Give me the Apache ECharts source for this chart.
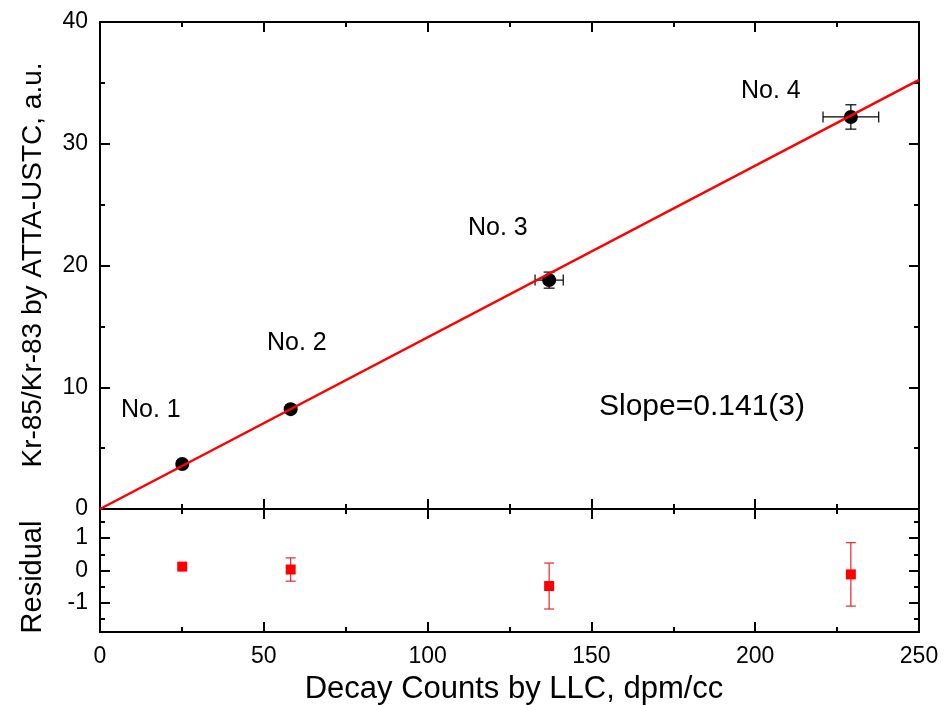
<!DOCTYPE html>
<html>
<head>
<meta charset="utf-8">
<script src="https://cdn.jsdelivr.net/npm/echarts@6/dist/echarts.min.js"></script>
<style>
  html, body { margin: 0; padding: 0; background: #fff; }
  #chart { width: 945px; height: 705px; }
</style>
</head>
<body>
<div id="chart"></div>
<script>
// sample data
const sampleNames = ["No. 1", "No. 2", "No. 3", "No. 4"];
const llcCounts = [25.1, 58.2, 137.1, 229.2];
const llcErr = [0, 0.8, 4.3, 8.5];
const attaRatio = [3.7, 8.2, 18.8, 32.2];
const attaErr = [0, 0.2, 0.66, 1.0];
const residual = [0.12, 0.03, -0.48, -0.12];
const residualErr = [0, 0.36, 0.71, 0.98];
// fitted line, slope 0.141
const fitX = [0, 250];
const fitY = [0, 35.25];

const resTicks = [-1, 0, 1];
const resMinorTicks = [-1.5, -0.5, 0.5, 1.5];

const FONT = "'Liberation Sans', Arial, sans-serif";
const black = "#000";
const red = "#ff0000";

const chart = echarts.init(document.getElementById("chart"), null, { renderer: "canvas" });

const axisLine = { show: true, onZero: false, lineStyle: { color: black, width: 2 } };
const majorTick = { show: true, inside: true, length: 10, lineStyle: { color: black, width: 2 } };
const minorTick = { show: true, splitNumber: 2, length: 5, lineStyle: { color: black, width: 2 } };
const tickFont = { color: black, fontSize: 23, fontFamily: FONT };

const xBase = (grid, pos, labels) => ({
  type: "value",
  gridIndex: grid,
  position: pos,
  min: 0,
  max: 250,
  interval: 50,
  axisLine: axisLine,
  axisTick: majorTick,
  minorTick: minorTick,
  splitLine: { show: false },
  axisLabel: labels ? Object.assign({ show: true, margin: 13 }, tickFont) : { show: false },
});

const resY = (pos, values, len, labels) => ({
  type: "value",
  gridIndex: 1,
  position: pos,
  min: -1.9,
  max: 1.9,
  axisLine: axisLine,
  axisTick: { show: true, inside: true, length: len, customValues: values, lineStyle: { color: black, width: 2 } },
  splitLine: { show: false },
  axisLabel: labels
    ? Object.assign({ show: true, customValues: values, margin: 12 }, tickFont)
    : { show: false },
});

// error bars: [x, y, xErr, yErr]
const errorBar = (color, cap) => (params, api) => {
  const x = api.value(0), y = api.value(1), xe = api.value(2), ye = api.value(3);
  const l = api.coord([x - xe, y]), r = api.coord([x + xe, y]);
  const t = api.coord([x, y + ye]), b = api.coord([x, y - ye]);
  const style = { stroke: color, lineWidth: 1.2 };
  const children = [];
  if (ye > 0) {
    children.push(
      { type: "line", shape: { x1: t[0], y1: t[1], x2: b[0], y2: b[1] }, style: style },
      { type: "line", shape: { x1: t[0] - cap, y1: t[1], x2: t[0] + cap, y2: t[1] }, style: style },
      { type: "line", shape: { x1: b[0] - cap, y1: b[1], x2: b[0] + cap, y2: b[1] }, style: style }
    );
  }
  if (xe > 0) {
    children.push(
      { type: "line", shape: { x1: l[0], y1: l[1], x2: r[0], y2: r[1] }, style: style },
      { type: "line", shape: { x1: l[0], y1: l[1] - cap, x2: l[0], y2: l[1] + cap }, style: style },
      { type: "line", shape: { x1: r[0], y1: r[1] - cap, x2: r[0], y2: r[1] + cap }, style: style }
    );
  }
  return { type: "group", children: children };
};

const topPoints = llcCounts.map((x, i) => [x, attaRatio[i], llcErr[i], attaErr[i]]);
const resPoints = llcCounts.map((x, i) => [x, residual[i], 0, residualErr[i]]);

const labelText = (text, left, cy, size) => ({
  type: "text",
  x: left,
  y: cy,
  style: { text: text, fill: black, font: size + "px " + FONT, textAlign: "left", textVerticalAlign: "middle" },
});

chart.setOption({
  animation: false,
  backgroundColor: "#fff",
  grid: [
    { left: 100, top: 22, width: 819, height: 487 },
    { left: 100, top: 509, width: 819, height: 123 },
  ],
  xAxis: [
    xBase(0, "bottom", false),
    xBase(0, "top", false),
    xBase(1, "bottom", true),
    xBase(1, "top", false),
  ],
  yAxis: [
    {
      type: "value", gridIndex: 0, position: "left", min: 0, max: 40, interval: 10,
      axisLine: axisLine, axisTick: majorTick, minorTick: minorTick, splitLine: { show: false },
      axisLabel: Object.assign({ margin: 12 }, tickFont),
    },
    {
      type: "value", gridIndex: 0, position: "right", min: 0, max: 40, interval: 10,
      axisLine: axisLine, axisTick: majorTick, minorTick: minorTick, splitLine: { show: false },
      axisLabel: { show: false },
    },
    resY("left", resTicks, 10, true),
    resY("left", resMinorTicks, 5, false),
    resY("right", resTicks, 10, false),
    resY("right", resMinorTicks, 5, false),
  ],
  graphic: [
    labelText(sampleNames[0], 121, 410, 25),
    labelText(sampleNames[1], 267, 343, 25),
    labelText(sampleNames[2], 468, 228, 25),
    labelText(sampleNames[3], 741, 91, 25),
    labelText("Slope=0.141(3)", 599, 407, 30),
    {
      type: "text", x: 514, y: 689,
      style: { text: "Decay Counts by LLC, dpm/cc", fill: black, font: "31px " + FONT, textAlign: "center", textVerticalAlign: "middle" },
    },
    {
      type: "text", x: 33, y: 265, rotation: Math.PI / 2,
      style: { text: "Kr-85/Kr-83 by ATTA-USTC, a.u.", fill: black, font: "28px " + FONT, textAlign: "center", textVerticalAlign: "middle" },
    },
    {
      type: "text", x: 33, y: 577, rotation: Math.PI / 2,
      style: { text: "Residual", fill: black, font: "29px " + FONT, textAlign: "center", textVerticalAlign: "middle" },
    },
  ],
  series: [
    {
      type: "custom", xAxisIndex: 0, yAxisIndex: 0, z: 2,
      renderItem: errorBar(black, 5.5), data: topPoints,
    },
    {
      type: "scatter", xAxisIndex: 0, yAxisIndex: 0, z: 3,
      symbol: "circle", symbolSize: 14, itemStyle: { color: black, opacity: 1 },
      data: llcCounts.map((x, i) => [x, attaRatio[i]]),
    },
    {
      type: "line", xAxisIndex: 0, yAxisIndex: 0, z: 4,
      symbol: "none", lineStyle: { color: red, width: 2.5 },
      data: fitX.map((x, i) => [x, fitY[i]]),
    },
    {
      type: "custom", xAxisIndex: 2, yAxisIndex: 2, z: 2,
      renderItem: errorBar("#e8262b", 5), data: resPoints,
    },
    {
      type: "scatter", xAxisIndex: 2, yAxisIndex: 2, z: 3,
      symbol: "rect", symbolSize: 10, itemStyle: { color: red, opacity: 1 },
      data: llcCounts.map((x, i) => [x, residual[i]]),
    },
  ],
});
</script>
</body>
</html>
